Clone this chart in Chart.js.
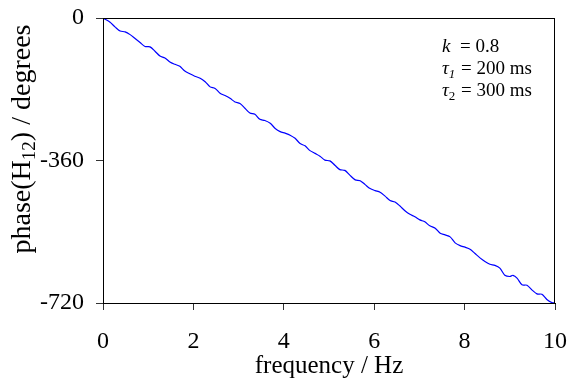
<!DOCTYPE html>
<html>
<head>
<meta charset="utf-8">
<script src="https://cdn.jsdelivr.net/npm/chart.js@4.4.1/dist/chart.umd.min.js"></script>
<style>
  html, body { margin: 0; padding: 0; background: #fff; }
  #wrap { width: 570px; height: 385px; }
</style>
</head>
<body>
<div id="wrap"><canvas id="myChart"></canvas></div>
<script>
// frequency (Hz) and phase (degrees)
const freq = [0, 0.15, 0.27, 0.38, 0.49, 0.60, 0.71, 0.82, 0.93, 1.04, 1.15, 1.26, 1.37, 1.48, 1.59, 1.70, 1.81, 1.92, 2.03, 2.15, 2.26, 2.37, 2.48, 2.59, 2.70, 2.81, 2.92, 3.03, 3.14, 3.25, 3.36, 3.47, 3.58, 3.70, 3.81, 3.92, 4.03, 4.14, 4.25, 4.36, 4.47, 4.58, 4.69, 4.80, 4.91, 5.02, 5.13, 5.24, 5.35, 5.46, 5.58, 5.69, 5.80, 5.91, 6.02, 6.13, 6.24, 6.35, 6.46, 6.57, 6.68, 6.79, 6.90, 7.01, 7.12, 7.23, 7.35, 7.46, 7.57, 7.68, 7.79, 7.90, 8.01, 8.12, 8.23, 8.34, 8.45, 8.56, 8.67, 8.78, 8.89, 9.00, 9.07, 9.16, 9.27, 9.38, 9.50, 9.60, 9.71, 9.82, 9.93, 10.0];
const phase = [0, -10, -23, -33, -35, -42, -52, -62, -72, -73, -84, -96, -101, -111, -117, -122, -134, -141, -147, -152, -161, -174, -178, -190, -196, -203, -212, -216, -228, -240, -243, -256, -259, -266, -279, -287, -291, -296, -304, -317, -323, -335, -342, -349, -359, -361, -372, -383, -385, -397, -409, -411, -421, -431, -436, -440, -450, -461, -465, -475, -487, -496, -502, -510, -515, -525, -531, -544, -548, -553, -568, -575, -579, -584, -595, -606, -615, -622, -625, -632, -650, -653, -650, -657, -674, -675, -688, -697, -698, -711, -719, -720];

const xTicks = [0, 2, 4, 6, 8, 10];
const yTicks = [0, -360, -720];

const serif = '"Liberation Serif", "Times New Roman", serif';

// frame, y title with subscript, and the parameter note
const extras = {
    id: 'extras',
    afterDraw(chart) {
        const ctx = chart.ctx;
        const a = chart.chartArea;
        ctx.save();
        ctx.strokeStyle = '#000';
        ctx.lineWidth = 1;
        ctx.strokeRect(a.left + 0.5, a.top + 0.5, a.right - a.left - 1, a.bottom - a.top);

        ctx.fillStyle = '#000';
        ctx.textBaseline = 'alphabetic';

        // y axis title
        ctx.save();
        ctx.translate(30, 139);
        ctx.rotate(-Math.PI / 2);
        const big = '28px ' + serif, small = '19px ' + serif;
        const parts = [['phase(H', big, 0], ['12', small, 5], [') / degrees', big, 0]];
        let w = 0;
        parts.forEach(p => { ctx.font = p[1]; w += ctx.measureText(p[0]).width; });
        let x = -w / 2;
        parts.forEach(p => { ctx.font = p[1]; ctx.fillText(p[0], x, p[2]); x += ctx.measureText(p[0]).width; });
        ctx.restore();

        // parameter note
        const f = '19px ' + serif, fi = 'italic 19px ' + serif;
        const fs = '13px ' + serif, fsi = 'italic 13px ' + serif;
        const lines = [
            [['k', fi, 0], ['  = 0.8', f, 0]],
            [['\u03c4', fi, 0], ['1', fsi, 4], [' = 200 ms', f, 0]],
            [['\u03c4', fi, 0], ['2', fs, 4], [' = 300 ms', f, 0]]
        ];
        lines.forEach((ln, i) => {
            let lx = 442;
            ln.forEach(p => {
                ctx.font = p[1];
                ctx.fillText(p[0], lx, 52 + i * 22 + p[2]);
                lx += ctx.measureText(p[0]).width + (p[2] ? 1 : 0);
            });
        });
        ctx.restore();
    }
};

const ctx = document.getElementById('myChart');

new Chart(ctx, {
    type: 'line',
    data: {
        datasets: [{
            data: freq.map((f, i) => ({ x: f, y: phase[i] })),
            borderColor: '#0000ff',
            borderWidth: 1.2,
            pointRadius: 0,
            tension: 0.3,
            fill: false
        }]
    },
    options: {
        responsive: true,
        maintainAspectRatio: false,
        animation: false,
        devicePixelRatio: 1,
        layout: { padding: { top: 18, right: 15, left: 0, bottom: 0 } },
        plugins: {
            legend: { display: false },
            tooltip: { enabled: false }
        },
        scales: {
            x: {
                type: 'linear',
                min: 0,
                max: 10,
                afterBuildTicks: s => { s.ticks = xTicks.map(v => ({ value: v })); },
                afterFit: s => { s.height = 82; s.paddingLeft = 0; s.paddingRight = 0; },
                ticks: {
                    color: '#000',
                    font: { family: serif, size: 24 },
                    padding: 17,
                    maxRotation: 0
                },
                grid: {
                    drawOnChartArea: false,
                    drawTicks: true,
                    tickLength: 7,
                    color: '#333'
                },
                border: { display: true, color: '#000', width: 1 },
                title: {
                    display: true,
                    text: 'frequency / Hz',
                    color: '#000',
                    font: { family: serif, size: 25 },
                    padding: { top: 0, bottom: 4 }
                }
            },
            y: {
                min: -720,
                max: 0,
                afterBuildTicks: s => { s.ticks = yTicks.map(v => ({ value: v })); },
                afterFit: s => { s.width = 103; s.paddingTop = 0; s.paddingBottom = 0; },
                ticks: {
                    color: '#000',
                    font: { family: serif, size: 24 },
                    padding: 12
                },
                grid: {
                    drawOnChartArea: false,
                    drawTicks: true,
                    tickLength: 7,
                    color: '#333'
                },
                border: { display: true, color: '#000', width: 1 }
            }
        }
    },
    plugins: [extras]
});
</script>
</body>
</html>
